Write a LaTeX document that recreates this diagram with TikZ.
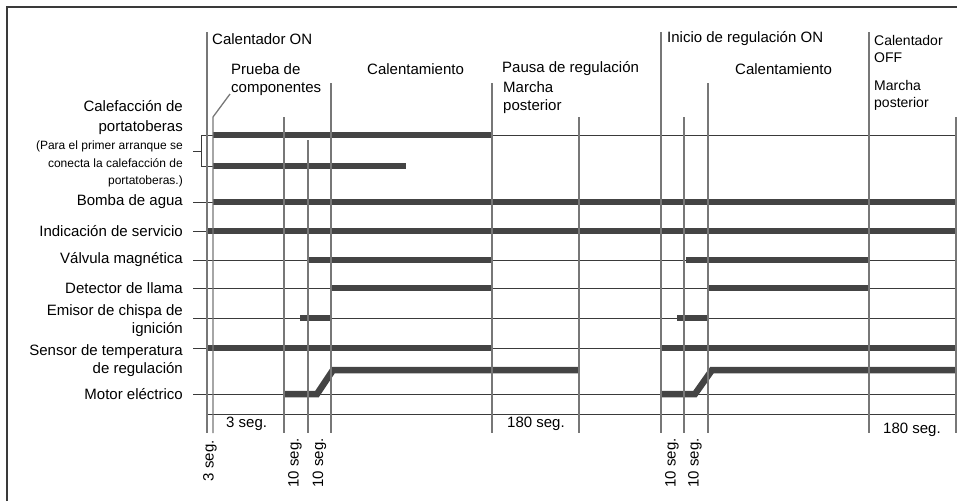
\documentclass[tikz,border=0pt]{standalone}
\usepackage{fontspec}
\setmainfont{Liberation Sans}
\usetikzlibrary{positioning}
\definecolor{bardark}{HTML}{444444}
\definecolor{gridgray}{HTML}{777777}
\definecolor{sigline}{HTML}{3A3A3A}

\begin{document}
\begin{tikzpicture}[x=1pt, y=-1pt,
  txt/.style={inner sep=0pt, font=\fontsize{15}{18}\selectfont},
  lbl/.style={txt, anchor=east, align=right},
  hdr/.style={txt, anchor=west, align=left},
  hdrs/.style={hdr, font=\fontsize{14}{17}\selectfont},
  small/.style={inner sep=0pt, anchor=east, align=right, font=\fontsize{12}{17.5}\selectfont},
  tim/.style={txt, anchor=east, rotate=90},
  sig/.style={draw=sigline, line width=0.9pt},
  grid/.style={draw=gridgray, line width=1.3pt},
  bar/.style={draw=bardark, line width=6.5pt},
  frm/.style={draw=sigline, line width=1.4pt}]
\useasboundingbox (0,0) rectangle (957,501);
\draw[frm] (7,501) -- (7,7) -- (957,7);

\node[lbl] (calef) at (183,118) {Calefacción de\\[2pt]portatoberas};
\node[small] (nota) at (183,164) {(Para el primer arranque se\\conecta la calefacción de\\portatoberas.)};
\node[lbl] (bomba) at (183,202) {Bomba de agua};
\node[lbl] (indic) at (183,231) {Indicación de servicio};
\node[lbl] (valv) at (183,260) {Válvula magnética};
\node[lbl] (detec) at (183,288) {Detector de llama};
\node[lbl] (emis) at (183,320.5) {Emisor de chispa de\\ignición};
\node[lbl] (sens) at (183,361) {Sensor de temperatura\\de regulación};
\node[lbl] (motor) at (183,394) {Motor eléctrico};

\node[hdr] (calon) at (212,39) {Calentador ON};
\node[hdr] (prueba) at (231,79.5) {Prueba de\\componentes};
\node[hdr] (calent1) at (367,69) {Calentamiento};
\node[hdr] (pausa) at (502,69) {Pausa de regulación};
\node[hdr] (marcha1) at (503,97.5) {Marcha\\posterior};
\node[hdr] (inicio) at (667,39) {Inicio de regulación ON};
\node[hdr] (calent2) at (735,69) {Calentamiento};
\node[hdrs] (caloff) at (874,48.5) {Calentador\\OFF};
\node[hdrs] (marcha2) at (874,95) {Marcha\\posterior};

\node[txt, anchor=west] (tres) at (226,424) {3 seg.};
\node[txt, anchor=west] (ciento1) at (507,424) {180 seg.};
\node[txt, anchor=west] (ciento2) at (883,430) {180 seg.};
\node[tim] (t3) at (210,440) {3 seg.};
\node[tim] (t10a) at (295,438) {10 seg.};
\node[tim] (t10b) at (319.5,438) {10 seg.};
\node[tim] (t10c) at (672,438) {10 seg.};
\node[tim] (t10d) at (695,438) {10 seg.};

\draw[sig] (213,135) -- (957,135);
\draw[sig] (213,135) -- (201,135) -- (201,166) -- (213,166);
\draw[sig] (193,151) -- (201,151);
\draw[sig] (193,202) -- (957,202);
\draw[sig] (193,231) -- (957,231);
\draw[sig] (193,260) -- (957,260);
\draw[sig] (193,288) -- (957,288);
\draw[sig] (193,318) -- (957,318);
\draw[sig] (193,348) -- (957,348);
\draw[sig] (193,394) -- (957,394);
\draw[sig] (207,414) -- (957,414);

\draw[bar] (213,135) -- (492,135);
\draw[bar] (213,166) -- (406,166);
\draw[bar] (213,202) -- (957,202);
\draw[bar] (207,231) -- (957,231);
\draw[bar] (309,260) -- (492,260);
\draw[bar] (686,260) -- (869,260);
\draw[bar] (332,288) -- (492,288);
\draw[bar] (708,288) -- (869,288);
\draw[bar] (300,318) -- (332,318);
\draw[bar] (677,318) -- (708,318);
\draw[bar] (207,348) -- (492,348);
\draw[bar] (661,348) -- (957,348);
\draw[bar] (285,394) -- (317,394) -- (333,370) -- (579,370);
\draw[bar] (661,394) -- (695,394) -- (712,370) -- (957,370);

\draw[grid] (207,32) -- (207,433);
\draw[grid] (230,94) -- (213,117) -- (213,433);
\draw[grid] (284,117) -- (284,433);
\draw[grid] (308,140) -- (308,433);
\draw[grid] (331,83) -- (331,433);
\draw[grid] (492,83) -- (492,433);
\draw[grid] (579,117) -- (579,433);
\draw[grid] (661,32) -- (661,433);
\draw[grid] (684,117) -- (684,433);
\draw[grid] (708,83) -- (708,433);
\draw[grid] (869,32) -- (869,433);
\draw[grid] (956,117) -- (956,433);
\end{tikzpicture}
\end{document}
